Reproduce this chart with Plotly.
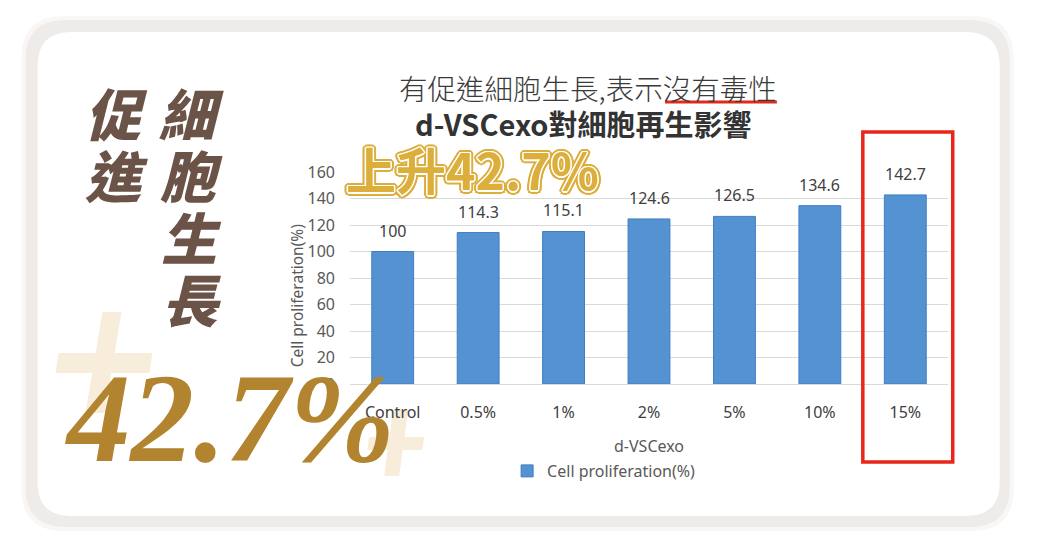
import plotly.graph_objects as go

# 頁面有 8px 的 body 邊距，所以圖本身比視窗小 16px
PAGE_W, PAGE_H = 1038, 554
OFF = 8
FIG_W, FIG_H = PAGE_W - 2 * OFF, PAGE_H - 2 * OFF

# 繪圖區 (頁面像素)
PL, PR, PT, PB = 349.75, 948.25, 172, 384

# 資料
categories = ["Control", "0.5%", "1%", "2%", "5%", "10%", "15%"]
values = [100, 114.3, 115.1, 124.6, 126.5, 134.6, 142.7]
y_ticks = [0, 20, 40, 60, 80, 100, 120, 140, 160]
series_name = "Cell proliferation(%)"
x_title = "d-VSCexo"
title_1 = "有促進細胞生長,表示沒有毒性"
title_2 = "d-VSCexo對細胞再生影響"
badge = "上升42.7%"
big_number = "42.7%"
side_col_1 = ["促", "進"]
side_col_2 = ["細", "胞", "生", "長"]


def X(px):
    return (px - PL) / (PR - PL)


def Y(py):
    return (PB - py) / (PB - PT)


def rrect(x0, y0, x1, y1, r):
    # 圓角矩形 (像素 -> paper)
    p = [
        f"M{X(x0 + r)},{Y(y0)}", f"L{X(x1 - r)},{Y(y0)}",
        f"Q{X(x1)},{Y(y0)} {X(x1)},{Y(y0 + r)}", f"L{X(x1)},{Y(y1 - r)}",
        f"Q{X(x1)},{Y(y1)} {X(x1 - r)},{Y(y1)}", f"L{X(x0 + r)},{Y(y1)}",
        f"Q{X(x0)},{Y(y1)} {X(x0)},{Y(y1 - r)}", f"L{X(x0)},{Y(y0 + r)}",
        f"Q{X(x0)},{Y(y0)} {X(x0 + r)},{Y(y0)}", "Z",
    ]
    return " ".join(p)


def poly(pts):
    return "M" + " L".join(f"{X(a)},{Y(b)}" for a, b in pts) + " Z"


def note(px, py, text, font, **kw):
    return dict(x=X(px), y=Y(py), xref="paper", yref="paper", text=text, showarrow=False,
                xanchor="center", yanchor="middle", font=font, **kw)


fig = go.Figure()

fig.add_trace(go.Bar(
    x=categories, y=values, name=series_name,
    marker=dict(color="#5592d2", line=dict(color="#3f7fc2", width=1)),
    showlegend=True,
))

shapes = []
# 卡片外框與陰影
shapes.append(dict(type="path", path=rrect(21, 16, 1014, 531, 42), xref="paper", yref="paper",
                   fillcolor="#f8f7f6", line=dict(width=0), layer="below"))
shapes.append(dict(type="path", path=rrect(25, 20, 1010, 527, 40), xref="paper", yref="paper",
                   fillcolor="#eeebe8", line=dict(width=0), layer="below"))
shapes.append(dict(type="path", path=rrect(37, 32, 1000, 516, 34), xref="paper", yref="paper",
                   fillcolor="#ffffff", line=dict(width=0), layer="below"))

# 淡色加號
beige = "#f8ecda"
shapes.append(dict(type="path", path=poly([(102, 312), (121, 312), (104, 413), (85, 413)]),
                   xref="paper", yref="paper", fillcolor=beige, line=dict(width=0), layer="below"))
shapes.append(dict(type="path", path=poly([(58, 353), (152, 353), (149, 373), (55, 373)]),
                   xref="paper", yref="paper", fillcolor=beige, line=dict(width=0), layer="below"))
shapes.append(dict(type="path", path=poly([(393, 410), (408, 410), (399, 476), (384, 476)]),
                   xref="paper", yref="paper", fillcolor=beige, line=dict(width=0), layer="below"))
shapes.append(dict(type="path", path=poly([(369, 437), (424, 437), (422, 450), (367, 450)]),
                   xref="paper", yref="paper", fillcolor=beige, line=dict(width=0), layer="below"))

# 紅框與底線
shapes.append(dict(type="rect", x0=X(863), x1=X(953), y0=Y(462), y1=Y(132), xref="paper", yref="paper",
                   line=dict(color="#e8261b", width=3.5), layer="above"))
shapes.append(dict(type="line", x0=X(665), x1=X(777), y0=Y(102), y1=Y(102), xref="paper", yref="paper",
                   line=dict(color="#e02a1a", width=3), layer="above"))

ann = []
label_font = dict(family="Noto Sans", size=16, color="#404040")
for c, v in zip(categories, values):
    ann.append(dict(x=c, y=v, xref="x", yref="y", text=f"{v:g}", showarrow=False,
                    xanchor="center", yanchor="middle", yshift=21, font=label_font))

ann.append(note(588, 87, title_1, dict(family="Noto Sans CJK TC", size=28.5, color="#3a3a3a", weight=300)))
ann.append(note(583, 123, title_2, dict(family="Noto Sans CJK TC", size=29, color="#333333", weight="bold")))

# 軸標題
ann.append(note(297, 295, series_name, dict(family="Noto Sans", size=15.5, color="#595959"), textangle=-90))
ann.append(note(649, 446, x_title, dict(family="Noto Sans", size=16, color="#595959")))

# 金色外框字
gold = "#dcae3c"
sh = []
for dx, dy in [(1.5, 0), (-1.5, 0), (0, 1.5), (0, -1.5), (1.1, 1.1), (-1.1, 1.1), (1.1, -1.1), (-1.1, -1.1)]:
    sh.append(f"{dx}px {dy}px 0 #ffffff")
for dx, dy in [(3.5, 0), (-3.5, 0), (0, 3.5), (0, -3.5), (2.5, 2.5), (-2.5, 2.5), (2.5, -2.5), (-2.5, -2.5),
               (3.2, 1.3), (-3.2, 1.3), (3.2, -1.3), (-3.2, -1.3), (1.3, 3.2), (-1.3, 3.2), (1.3, -3.2), (-1.3, -3.2)]:
    sh.append(f"{dx}px {dy}px 0 {gold}")
ann.append(note(472, 168, badge,
                dict(family="Noto Sans CJK TC", size=50, color=gold, weight="bold", shadow=", ".join(sh))))

# 左側直書標語
side_font = dict(family="Noto Sans CJK TC", size=56, color="#6b5347", weight=900, style="italic")
for i, ch in enumerate(side_col_1):
    ann.append(note(116, 111 + 62 * i, ch, side_font))
for i, ch in enumerate(side_col_2):
    ann.append(note(191, 111 + 62 * i, ch, side_font))

# 大金色數字
ann.append(note(230, 418, big_number,
                dict(family="Liberation Serif", size=127, color="#b3842f", weight="bold", style="italic")))

fig.update_layout(
    width=FIG_W, height=FIG_H,
    margin=dict(l=PL - OFF, r=PAGE_W - OFF - PR, t=PT - OFF, b=PAGE_H - OFF - PB, pad=0),
    paper_bgcolor="#ffffff", plot_bgcolor="rgba(0,0,0,0)",
    bargap=0.51,
    showlegend=True,
    legend=dict(orientation="h", x=X(507), xanchor="left", y=Y(471), yanchor="middle",
                font=dict(family="Noto Sans", size=16, color="#595959"), bgcolor="rgba(0,0,0,0)"),
    xaxis=dict(showgrid=False, showline=True, linecolor="#d9d9d9", automargin=False,
               ticks="", ticklabelstandoff=14, tickfont=dict(family="Noto Sans", size=16, color="#404040"),
               fixedrange=True),
    yaxis=dict(range=[0, 160], tickvals=y_ticks, showgrid=True, automargin=False,
               gridcolor="#d9d9d9", gridwidth=1, zeroline=False, showline=False, ticks="",
               ticklabelstandoff=14, tickfont=dict(family="Noto Sans", size=16, color="#595959"),
               fixedrange=True),
    shapes=shapes,
    annotations=ann,
)

fig.write_html("out.html")
